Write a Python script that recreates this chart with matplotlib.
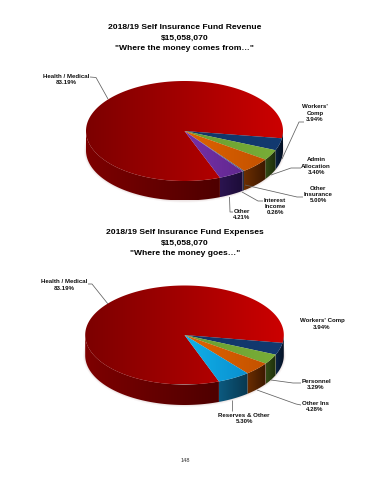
import numpy as np
import matplotlib
matplotlib.use('Agg')
import matplotlib.pyplot as plt
from matplotlib.colors import LinearSegmentedColormap
from matplotlib.patches import Polygon

# Datos
rev_names = ['Health / Medical', "Workers' Comp", 'Admin Allocation', 'Other Insurance', 'Interest Income', 'Other']
rev_values = [83.19, 3.94, 3.40, 5.00, 0.26, 4.21]
exp_names = ['Health / Medical', "Workers' Comp", 'Personnel', 'Other Ins', 'Reserves & Other']
exp_values = [83.19, 3.94, 3.29, 4.28, 5.30]

plt.rcParams['font.family'] = ['Liberation Sans', 'DejaVu Sans']

# (izquierda, derecha) para la cara superior y para el lateral
RED = (('#cc0000', '#7c0000'), ('#7e0000', '#4e0000'))
NAVY = (('#123668', '#123a70'), ('#0c2444', '#040f20'))
GREEN = (('#6a9e30', '#78ae38'), ('#344c16', '#1c2c0a'))
ORANGE = (('#e06400', '#c45200'), ('#6c2e00', '#3c1800'))
GRAY = (('#6080a0', '#506080'), ('#303848', '#202838'))
PURPLE = (('#7830a8', '#602890'), ('#2c1450', '#1c0c38'))
BLUE = (('#10b0e8', '#0a90d0'), ('#0c5a80', '#083850'))

rev_colors = [RED, NAVY, GREEN, ORANGE, GRAY, PURPLE]
exp_colors = [RED, NAVY, GREEN, ORANGE, BLUE]

fig = plt.figure(figsize=(3.7, 4.8), dpi=100)
ax = fig.add_axes([0, 0, 1, 1])
ax.set_xlim(0, 370)
ax.set_ylim(480, 0)
ax.axis('off')


def fill_gradient(pts, c_right, c_left, x0, x1):
    # degradado horizontal recortado a la forma
    cmap = LinearSegmentedColormap.from_list('g', [c_left, c_right])
    xs = np.linspace(0, 1, 256).reshape(1, -1)
    im = ax.imshow(xs, cmap=cmap, extent=[x0, x1, pts[:, 1].max(), pts[:, 1].min()],
                   aspect='auto', vmin=0, vmax=1, zorder=3, interpolation='bilinear')
    poly = Polygon(pts, closed=True, transform=ax.transData, fc='none', ec='none')
    ax.add_patch(poly)
    im.set_clip_path(poly)


def draw_pie(values, colors, cx, cy, a, b, depth, split):
    # sombra suave bajo la base
    t = np.linspace(0, 2 * np.pi, 200)
    for grow, alpha in [(2, 0.05), (1, 0.08)]:
        ax.fill(cx + (a + grow) * np.cos(t), cy + depth + (b + grow) * np.sin(t),
                color='#804040', alpha=alpha, lw=0, zorder=1)

    # sentido horario en pantalla; la primera porción termina en 'split'
    start = split - values[0] * 3.6
    edges = start + np.cumsum([0] + list(values)) * 3.6
    for i in range(len(values)):
        ang = np.radians(np.linspace(edges[i], edges[i + 1], 360))
        px = cx + a * np.cos(ang)
        py = cy + b * np.sin(ang)
        top = np.column_stack([np.r_[cx, px], np.r_[cy, py]])
        c_top, c_side = colors[i]

        # lateral: la primera porción solo por debajo; la segunda sube hasta el borde derecho
        t0 = edges[i]
        t1 = edges[i + 1]
        if i == 0:
            t0 = edges[i] + 360
            t1 = 180
        elif i == 1:
            t0 = 0
        side_ang = np.radians(np.linspace(t0, t1, 240))
        sx = cx + a * np.cos(side_ang)
        sy = cy + b * np.sin(side_ang)
        side = np.column_stack([np.r_[sx, sx[::-1]], np.r_[sy, sy[::-1] + depth]])
        fill_gradient(side, c_side[1], c_side[0], sx.min(), sx.max() + 0.01)

        if i == 0:
            fill_gradient(top, c_top[0], c_top[1], cx - a, cx + a)
        else:
            fill_gradient(top, c_top[1], c_top[0], top[:, 0].min(), top[:, 0].max())


def label(x, y, text):
    ax.text(x, y, text, ha='center', va='center', fontsize=4.45, fontweight='bold',
            color='#101010', linespacing=1.3, zorder=6)


def leader(xs, ys):
    ax.plot(xs, ys, color='#606060', lw=0.55, zorder=5, solid_capstyle='butt')


def title(x, y, lines):
    for k, line in enumerate(lines):
        ax.text(x, y + k * 10.6, line, ha='center', va='center', fontsize=6.1,
                fontweight='bold', color='black', zorder=6)


# Gráfico de ingresos
title(184.5, 27.5, ['2018/19 Self Insurance Fund Revenue', '$15,058,070', '"Where the money comes from…"'])
draw_pie(rev_values, rev_colors, 184.5, 131, 98.5, 50, 19.5, 8.4)
label(66, 79.5, 'Health / Medical\n83.19%')
label(315, 113, "Workers'\nComp\n3.94%")
label(316, 166, 'Admin\nAllocation\n3.40%')
label(318, 194.5, 'Other\nInsurance\n5.00%')
label(275, 206.5, 'Interest\nIncome\n0.26%')
label(242, 214.5, 'Other\n4.21%')
leader([90, 96, 108], [77, 77.5, 99])
leader([304, 299, 282], [122, 122, 159])
leader([301, 291, 271], [168, 168, 175])
leader([303, 297, 245], [197, 197, 185])
leader([263, 258, 242], [201, 201, 192])
leader([233, 230, 229.5], [212, 212, 197])

# Gráfico de gastos
title(185, 232.5, ['2018/19 Self Insurance Fund Expenses', '$15,058,070', '"Where the money goes…"'])
draw_pie(exp_values, exp_colors, 184.5, 335, 99.3, 49.5, 20.5, 9.2)
label(64, 285, 'Health / Medical\n83.19%')
label(322, 324, "Workers' Comp\n3.94%")
label(316, 384.5, 'Personnel\n3.29%')
label(315, 406.5, 'Other Ins\n4.28%')
label(244, 418.5, 'Reserves & Other\n5.30%')
leader([88, 92, 108], [284, 284, 304])
leader([301, 293, 271], [383, 383, 380])
leader([301, 296, 257], [405, 404, 390])
leader([232, 232], [411, 400])

ax.text(185, 461, '148', ha='center', va='center', fontsize=4.0, color='#303030')

ax.set_xlim(0, 370)
ax.set_ylim(480, 0)
fig.savefig('out.png', dpi=100, facecolor='white')
